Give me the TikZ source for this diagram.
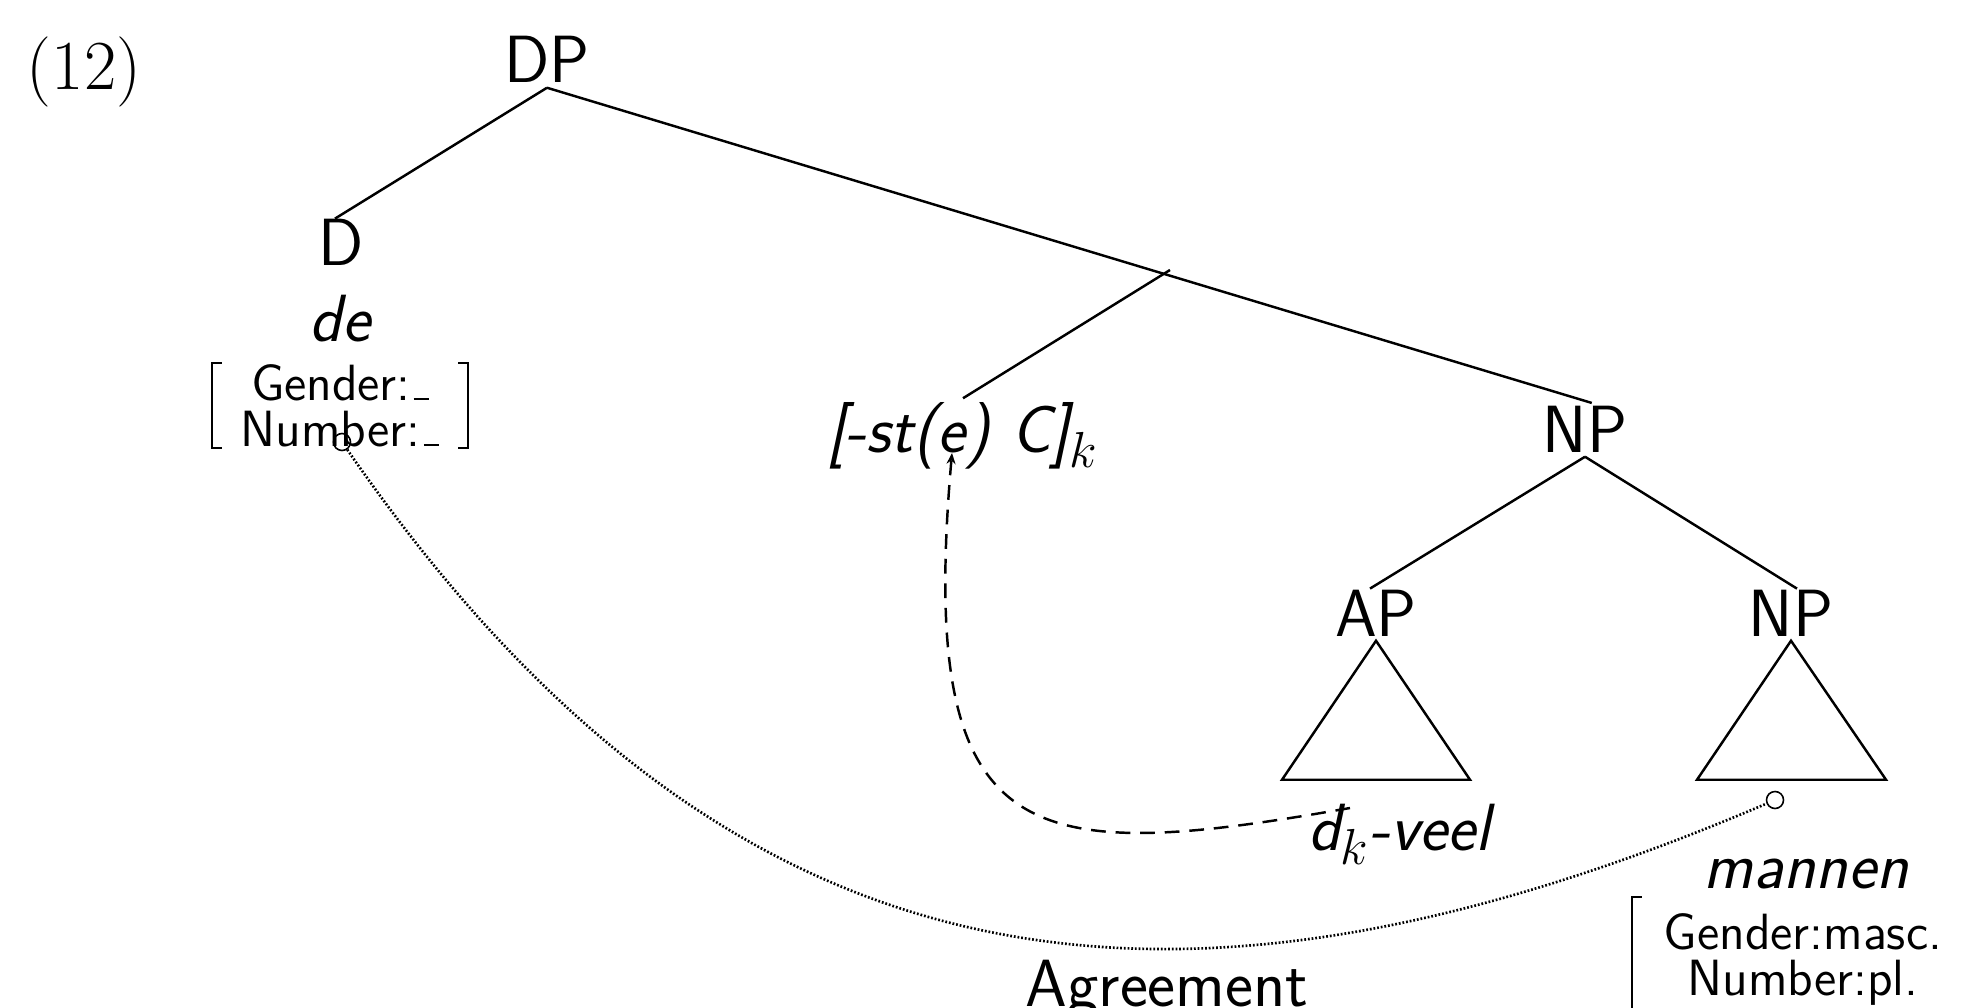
\documentclass[tikz,border=0pt]{standalone}
\usepackage{amsmath,amssymb}
\usepackage{tikz}
\usetikzlibrary{arrows.meta, positioning, calc}

\newcommand{\emptyval}{\kern.06em\rule{.3em}{.5pt}}

\begin{document}
\begin{tikzpicture}[line width=0.7pt,
  cat/.style={font=\fontsize{19}{23}\selectfont\sffamily, inner sep=1pt, anchor=base},
  word/.style={font=\fontsize{19}{23}\selectfont\sffamily\itshape, inner sep=1pt, anchor=base},
  feat/.style={font=\fontsize{14.5}{13.1}\selectfont\sffamily, align=center, inner xsep=0pt, anchor=north},
  tedge/.style={shorten >=-2pt},
  agrdot/.style={circle, draw, line width=0.45pt, inner sep=0pt, minimum size=0.17cm},
  agrline/.style={line width=0.75pt, dash pattern=on 0.5pt off 0.55pt},
  moveline/.style={dash pattern=on 4.2pt off 2.8pt, -{Stealth[length=1.1mm, width=0.9mm]}}]
  \fill[white] (0,0) rectangle (19.63,-10.08);
  \useasboundingbox (0,0) rectangle (19.63,-10.08);

  \node[anchor=base, font=\fontsize{20}{24}\selectfont] (ex) at (0.84,-0.90) {(12)};
  \node[cat] (DP) at (5.47,-0.83) {DP};
  \node[cat] (D) at (3.41,-2.66) {D};
  \node[word] (de) at (3.40,-3.42) {de};
  \node[feat, minimum width=2.54cm, inner ysep=0pt] (f1) at (3.40,-3.63) {Gender:\emptyval\\Number:\emptyval};
  \node[word] (st) at (9.63,-4.53) {[-st(e) C]$_k$};
  \node[cat] (NP) at (15.85,-4.52) {NP};
  \node[cat] (AP) at (13.76,-6.36) {AP};
  \node[cat] (NPb) at (17.91,-6.36) {NP};
  \node[word] (dveel) at (13.99,-8.50) {d$_k$-veel};
  \node[word] (mannen) at (18.06,-8.88) {mannen};
  \node[feat, minimum width=3.40cm, inner ysep=0.15cm] (f2) at (18.03,-8.97) {Gender:masc.\\Number:pl.};
  \node[cat] (agr) at (11.67,-10.06) {Agreement};

  \node[agrdot] (c1) at (3.42,-4.42) {};
  \node[agrdot] (c2) at (17.75,-8.00) {};
  \coordinate (sttop) at (11.70,-2.70);
  \coordinate (dk) at ([xshift=-0.49cm, yshift=0.42cm]dveel.base);

  \draw[tedge] (DP.south) -- (D.north);
  \draw[tedge] (DP.south) -- (NP.north);
  \draw (sttop) -- (st.north);
  \draw[tedge] (NP.south) -- (AP.north);
  \draw[tedge] (NP.south) -- (NPb.north);
  \draw (AP.south) -- ++(-0.94,-1.39) -- ++(1.88,0) -- cycle;
  \draw (NPb.south) -- ++(-0.94,-1.39) -- ++(1.89,0) -- cycle;

  \draw ([xshift=0.1cm]f1.north west) -- (f1.north west) -- (f1.south west) -- ++(0.1,0);
  \draw ([xshift=-0.1cm]f1.north east) -- (f1.north east) -- (f1.south east) -- ++(-0.1,0);
  \draw ([xshift=0.1cm]f2.north west) -- (f2.north west) -- (f2.south west) -- ++(0.1,0);
  \draw ([xshift=-0.1cm]f2.north east) -- (f2.north east) -- (f2.south east) -- ++(-0.1,0);

  \draw[agrline] (c1) .. controls (7.32,-10.07) and (11.77,-10.55) .. (c2);
  \draw[moveline] (dk) .. controls (10.25,-8.65) and (9.17,-8.53) .. ([xshift=-0.11cm]st.base);
\end{tikzpicture}
\end{document}
